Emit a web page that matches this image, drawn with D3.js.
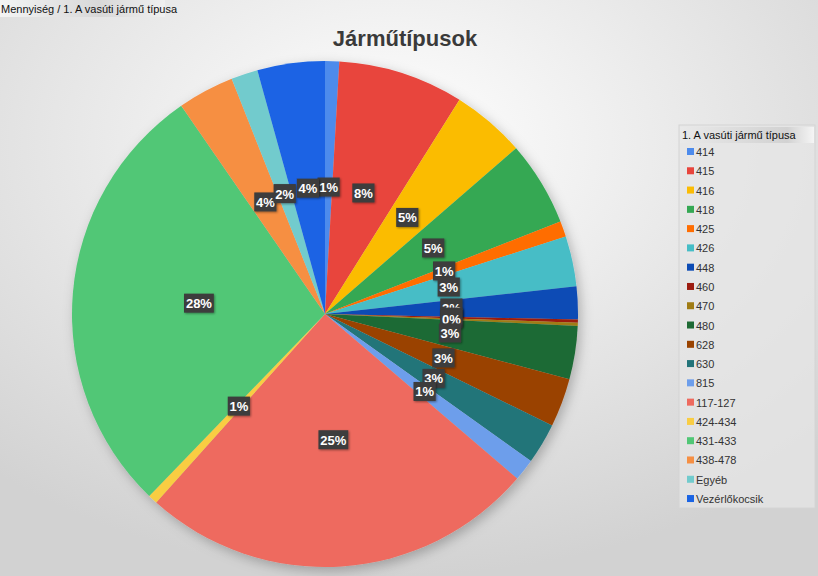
<!DOCTYPE html>
<html><head><meta charset="utf-8">
<script src="https://cdn.jsdelivr.net/npm/d3@7"></script>
<style>
html,body{margin:0;padding:0;overflow:hidden;}
svg{display:block;font-family:"Liberation Sans",Arial,sans-serif;}
</style></head>
<body>
<script>
const categories = ["414","415","416","418","425","426","448","460","470","480","628","630","815","117-127","424-434","431-433","438-478","Egyéb","Vezérlőkocsik"];
const values = [9,80,47,54,10,32,21,2,2,34,31,26,14,253,6,281,36,17,43];
const colors = ["#4d8bec","#e8453c","#fbbc04","#34a853","#ff6d01","#46bdc6","#0d4cb5","#9c1c10","#a07c14","#1e6a34","#9a4300","#237479","#6d9eeb","#ee6a5e","#f9cd43","#51c776","#f68f43","#72cbcd","#1a64e4"];
const title = "Járműtípusok";
const headerText = "Mennyiség / 1. A vasúti jármű típusa";
const legendTitle = "1. A vasúti jármű típusa";

const W = 818, H = 576;
const svg = d3.select("body").append("svg").attr("width", W).attr("height", H);
const defs = svg.append("defs");
const bg = defs.append("radialGradient").attr("id","bg").attr("cx","48%").attr("cy","25%").attr("r","75%");
bg.append("stop").attr("offset","0%").attr("stop-color","#ffffff");
bg.append("stop").attr("offset","100%").attr("stop-color","#d2d2d2");
const hg = defs.append("linearGradient").attr("id","hg").attr("x1","0").attr("x2","1").attr("y1","0").attr("y2","0");
hg.append("stop").attr("offset","0%").attr("stop-color","#f4f4f4");
hg.append("stop").attr("offset","60%").attr("stop-color","#d8d8d8");
hg.append("stop").attr("offset","100%").attr("stop-color","#f0f0f0");
const lg = defs.append("linearGradient").attr("id","lg").attr("x1","0").attr("x2","1");
lg.append("stop").attr("offset","0%").attr("stop-color","#e9e9e9");
lg.append("stop").attr("offset","80%").attr("stop-color","#d2d2d2");
lg.append("stop").attr("offset","100%").attr("stop-color","#f5f5f5");
const sh = defs.append("filter").attr("id","sh").attr("x","-20%").attr("y","-20%").attr("width","140%").attr("height","140%");
sh.append("feDropShadow").attr("dx",3).attr("dy",4).attr("stdDeviation",6).attr("flood-color","#000").attr("flood-opacity",0.25);
const bs = defs.append("filter").attr("id","bs").attr("x","-30%").attr("y","-30%").attr("width","160%").attr("height","160%");
bs.append("feDropShadow").attr("dx",1).attr("dy",1).attr("stdDeviation",1).attr("flood-color","#000").attr("flood-opacity",0.4);

svg.append("rect").attr("width",W).attr("height",H).attr("fill","url(#bg)");

// top-left header
const ht = svg.append("g");
ht.append("rect").attr("x",0).attr("y",0).attr("width",165).attr("height",17).attr("fill","url(#hg)");
ht.append("text").attr("x",1).attr("y",12.5).attr("font-size",11).attr("fill","#111").text(headerText);

// title
svg.append("text").attr("x",405).attr("y",46).attr("text-anchor","middle")
  .attr("font-size",22).attr("font-weight","bold").attr("fill","#3a3a3a").text(title);

// pie
const cx = 325, cy = 314, R = 253;
const data = categories.map((c,i)=>({cat:c, value:values[i], color:colors[i]}));
const total = d3.sum(values);
const pie = d3.pie().value(d=>d.value).sort(null);
const arcs = pie(data);
const arc = d3.arc().innerRadius(0).outerRadius(R);
const g = svg.append("g").attr("transform",`translate(${cx},${cy})`);
g.append("g").attr("filter","url(#sh)").selectAll("path").data(arcs).join("path")
  .attr("d",arc).attr("fill",d=>d.data.color);

const labelArc = d3.arc().innerRadius(R*0.5).outerRadius(R*0.5);
const fmt = d3.format(".0%");
const lab = g.append("g");
arcs.forEach(a=>{
  const [x,y] = labelArc.centroid(a);
  const t = fmt(a.data.value/total);
  const lg2 = lab.append("g").attr("transform",`translate(${x},${y})`);
  const bw = t.length*7.6 + 7;
  lg2.append("rect").attr("x",-bw/2).attr("y",-10).attr("width",bw).attr("height",19)
    .attr("fill","#3c3c3c").attr("filter","url(#bs)");
  lg2.append("text").attr("text-anchor","middle").attr("y",4.5).attr("font-size",13)
    .attr("font-weight","bold").attr("fill","#fff").text(t);
});

// legend
const lx = 679, ly = 125;
const leg = svg.append("g");
leg.append("rect").attr("x",lx).attr("y",ly).attr("width",136).attr("height",383)
  .attr("fill","#e6e6e6").attr("fill-opacity",0.75).attr("stroke","#d4d4d4");
leg.append("rect").attr("x",lx+1).attr("y",ly+2).attr("width",134).attr("height",16).attr("fill","url(#lg)");
leg.append("text").attr("x",lx+3).attr("y",ly+14).attr("font-size",11).attr("fill","#111").text(legendTitle);
const step = 19.28;
const items = leg.selectAll("g.it").data(data).join("g").attr("class","it")
  .attr("transform",(d,i)=>`translate(${lx+8},${ly+27+i*step})`);
items.append("rect").attr("x",0).attr("y",-4).attr("width",7).attr("height",7).attr("fill",d=>d.color);
items.append("text").attr("x",9).attr("y",4).attr("font-size",11).attr("fill","#333").text(d=>d.cat);
</script>
</body></html>
